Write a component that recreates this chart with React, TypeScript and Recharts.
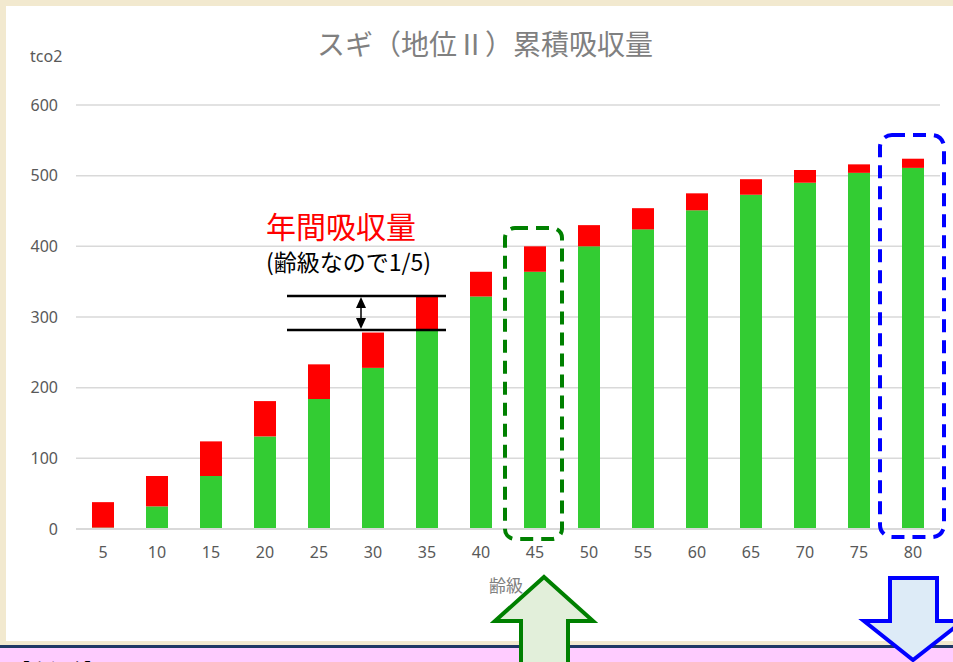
import React from "react";
import { BarChart, Bar, XAxis, YAxis, CartesianGrid } from "recharts";

const ageClasses = [5, 10, 15, 20, 25, 30, 35, 40, 45, 50, 55, 60, 65, 70, 75, 80];
const cumulativeStock = [2, 32, 75, 131, 184, 228, 282, 329, 364, 400, 424, 451, 473, 490, 504, 511];
const periodAbsorption = [36, 43, 49, 50, 49, 50, 48, 35, 36, 30, 30, 24, 22, 18, 12, 13];
const yTicks = [0, 100, 200, 300, 400, 500, 600];

const data = ageClasses.map((a, i) => ({
  age: String(a),
  stock: cumulativeStock[i],
  annual: periodAbsorption[i],
}));

const W = 953;
const H = 662;
const jp = '"Noto Sans CJK JP", "Noto Sans", sans-serif';
const sans = '"Noto Sans", "Noto Sans CJK JP", sans-serif';

export default function App() {
  return (
    <div style={{ position: "absolute", left: 0, top: 0, width: W, height: H, overflow: "hidden", background: "#F2E9CF" }}>
      {/* white panel */}
      <div style={{ position: "absolute", left: 6, top: 6, width: W - 6, height: 635, background: "#FFFFFF" }} />
      {/* navy line and pink area */}
      <div style={{ position: "absolute", left: 0, top: 645, width: W, height: 3, background: "#1F3864" }} />
      <div style={{ position: "absolute", left: 0, top: 648, width: W, height: H - 648, background: "#FFCCFF" }} />

      <div style={{ position: "absolute", left: 0, top: 0 }}>
        <BarChart
          width={W}
          height={H}
          data={data}
          margin={{ top: 105, right: 13, bottom: 103, left: 0 }}
          barSize={22}
        >
          <CartesianGrid vertical={false} stroke="#D9D9D9" strokeWidth={1.5} />
          <XAxis
            dataKey="age"
            axisLine={{ stroke: "#D9D9D9", strokeWidth: 2 }}
            tickLine={false}
            tickMargin={12}
            height={30}
            interval={0}
            tick={{ fontSize: 16, fill: "#595959", fontFamily: sans }}
          />
          <YAxis
            width={76}
            domain={[0, 600]}
            ticks={yTicks}
            axisLine={false}
            tickLine={false}
            tickMargin={12}
            tick={{ fontSize: 16, fill: "#595959", fontFamily: sans }}
          />
          <Bar dataKey="stock" stackId="a" fill="#33CC33" isAnimationActive={false} />
          <Bar dataKey="annual" stackId="a" fill="#FF0000" isAnimationActive={false} />
        </BarChart>
      </div>

      <svg style={{ position: "absolute", left: 0, top: 0 }} width={W} height={H}>
        <text x={485} y={55} textAnchor="middle" fontSize={28} fill="#808080" fontFamily={jp}>
          スギ（地位Ⅱ）累積吸収量
        </text>
        <text x={30} y={62} fontSize={16} fill="#595959" fontFamily={sans}>
          tco2
        </text>
        <text x={506} y={592} textAnchor="middle" fontSize={17} fill="#808080" fontFamily={jp}>
          齢級
        </text>

        {/* annotation */}
        <text x={266} y={238} fontSize={30} fill="#FF0000" fontFamily={jp}>
          年間吸収量
        </text>
        <text x={266} y={271} fontSize={23} fill="#000000" fontFamily={jp}>
          (齢級なので1/5)
        </text>
        <line x1={287} y1={296} x2={446} y2={296} stroke="#000" strokeWidth={2.5} />
        <line x1={287} y1={330} x2={446} y2={330} stroke="#000" strokeWidth={2.5} />
        <line x1={361} y1={300} x2={361} y2={326} stroke="#000" strokeWidth={1.5} />
        <polygon points="361,297 356,308 366,308" fill="#000" />
        <polygon points="361,329 356,318 366,318" fill="#000" />

        {/* dashed highlight boxes */}
        <rect x={505} y={228} width={57} height={311} rx={10} fill="none" stroke="#008000" strokeWidth={4} strokeDasharray="13 8" />
        <rect x={880} y={135} width={64} height={402} rx={12} fill="none" stroke="#0000FF" strokeWidth={4} strokeDasharray="13 8" />

        {/* arrows */}
        <polygon
          points="544,577 593,621 568,621 568,690 521,690 521,621 495,621"
          fill="#E2EFDA"
          stroke="#008000"
          strokeWidth={4}
          strokeLinejoin="miter"
        />
        <polygon
          points="890,578 937,578 937,621 963,621 913,660 864,621 890,621"
          fill="#DDEBF7"
          stroke="#0000FF"
          strokeWidth={4}
          strokeLinejoin="miter"
        />

        <text x={12} y={676} fontSize={18} fill="#000" fontFamily={jp}>
          【まとめ】
        </text>
      </svg>
    </div>
  );
}
